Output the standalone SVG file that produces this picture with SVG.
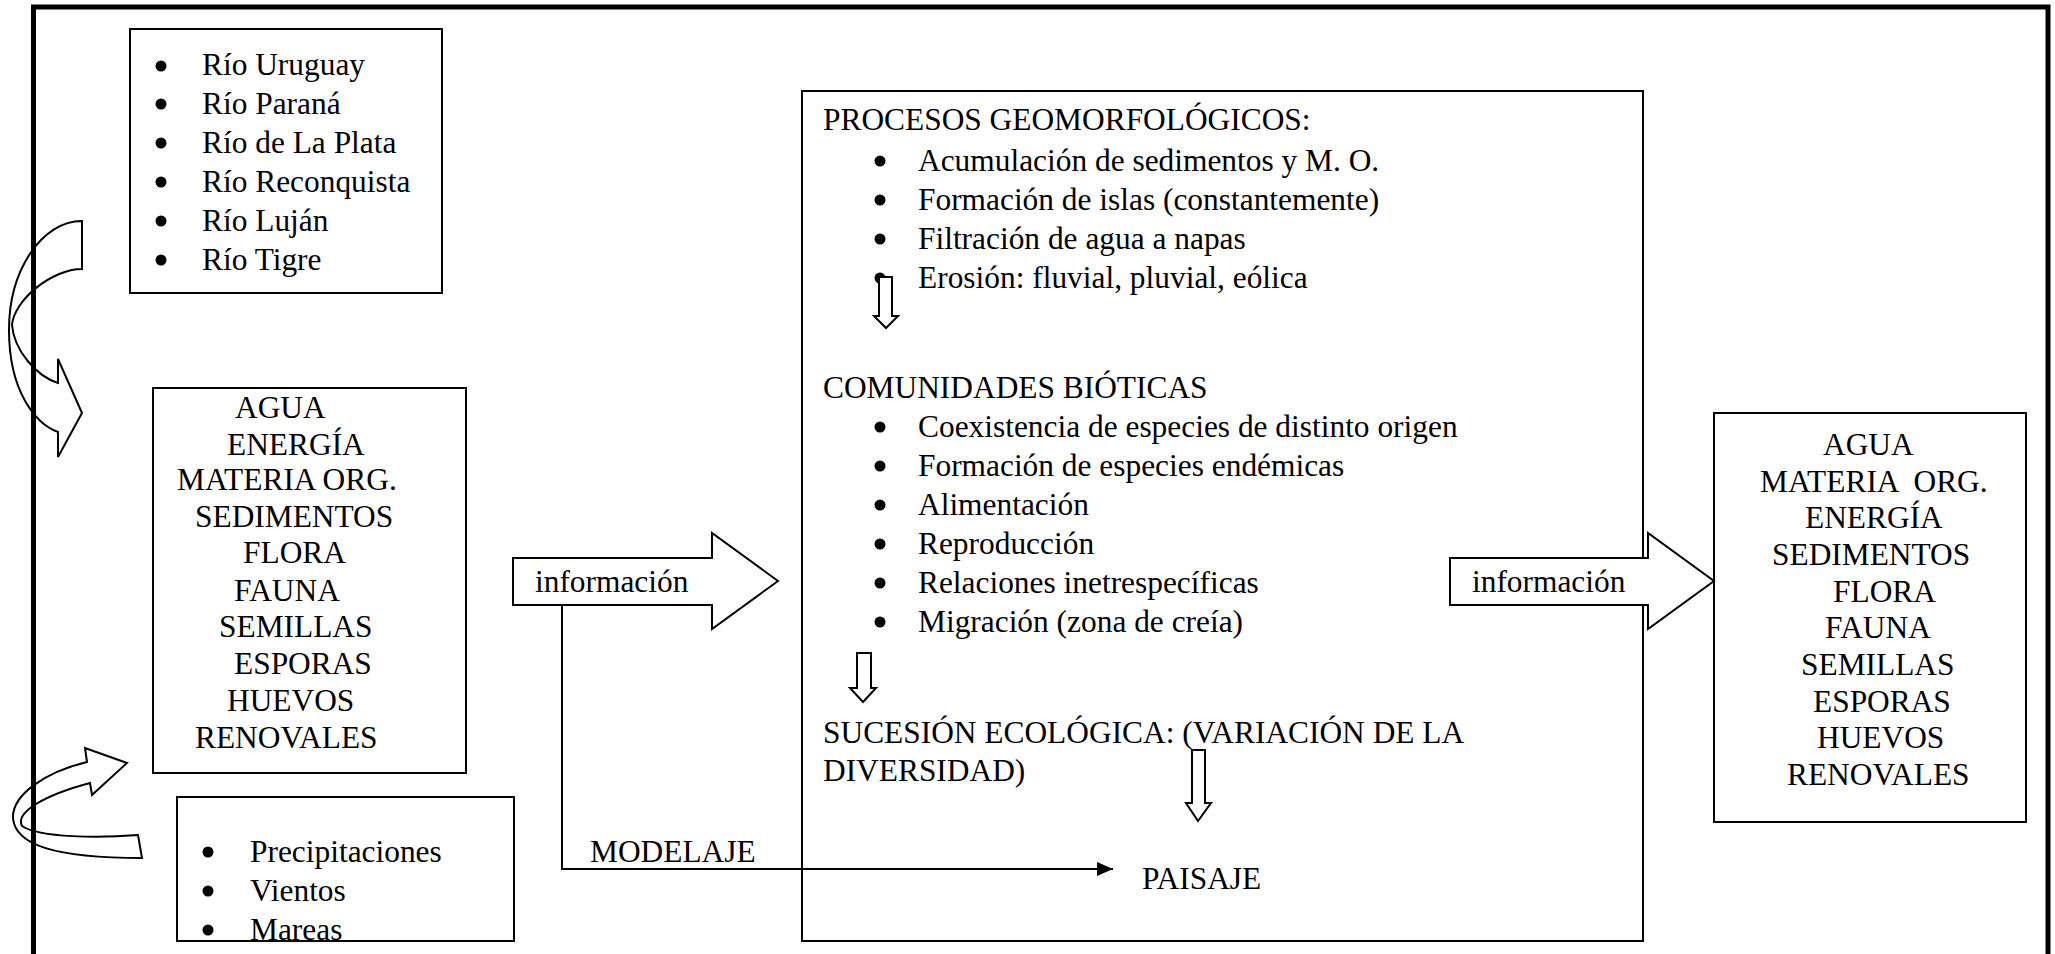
<svg xmlns="http://www.w3.org/2000/svg" width="2055" height="954" viewBox="0 0 2055 954">
<style>
text{font-family:"Liberation Serif","Times New Roman",serif;font-size:31.4px;fill:#000}
.box{fill:#fff;stroke:#000;stroke-width:2}
.blk{fill:#fff;stroke:#000;stroke-width:2;stroke-linejoin:miter}
.curve{fill:none;stroke:#000;stroke-width:2}
.bul{fill:#000}
.ln{fill:none;stroke:#000;stroke-width:2}
</style>
<defs>
<marker id="tri" viewBox="0 0 16 14" refX="16" refY="7" markerWidth="16" markerHeight="14" markerUnits="userSpaceOnUse" orient="auto">
<path d="M0,0 L16,7 L0,14 Z" fill="#000"/>
</marker>
</defs>
<rect x="0" y="0" width="2055" height="954" fill="#fff"/>
<g id="frame"><path d="M33.5,960 L33.5,7 L2048,7 L2048,960" fill="none" stroke="#000" stroke-width="5"/></g>

<g id="rios">
<rect class="box" x="130" y="29" width="312" height="264"/>
<circle class="bul" cx="161" cy="66" r="5.5"/><text x="202" y="75">Río Uruguay</text>
<circle class="bul" cx="161" cy="104" r="5.5"/><text x="202" y="114">Río Paraná</text>
<circle class="bul" cx="161" cy="143" r="5.5"/><text x="202" y="153">Río de La Plata</text>
<circle class="bul" cx="161" cy="182" r="5.5"/><text x="202" y="192">Río Reconquista</text>
<circle class="bul" cx="161" cy="221" r="5.5"/><text x="202" y="231">Río Luján</text>
<circle class="bul" cx="161" cy="260" r="5.5"/><text x="202" y="270">Río Tigre</text>
</g>

<g id="entradas">
<rect class="box" x="153" y="388" width="313" height="385"/>
<text x="235" y="418">AGUA</text>
<text x="227" y="455">ENERGÍA</text>
<text x="177" y="490">MATERIA ORG.</text>
<text x="195" y="527">SEDIMENTOS</text>
<text x="243" y="563">FLORA</text>
<text x="234" y="601">FAUNA</text>
<text x="219" y="637">SEMILLAS</text>
<text x="234" y="674">ESPORAS</text>
<text x="227" y="711">HUEVOS</text>
<text x="195" y="748">RENOVALES</text>
</g>

<g id="clima">
<rect class="box" x="177" y="797" width="337" height="144"/>
<circle class="bul" cx="208" cy="852" r="5.5"/><text x="250" y="862">Precipitaciones</text>
<circle class="bul" cx="208" cy="891" r="5.5"/><text x="250" y="901">Vientos</text>
<circle class="bul" cx="208" cy="930" r="5.5"/><text x="250" y="940">Mareas</text>
</g>

<g id="procesos">
<rect class="box" x="802" y="91" width="841" height="850"/>
<text x="823" y="130">PROCESOS GEOMORFOLÓGICOS:</text>
<circle class="bul" cx="880" cy="161" r="5.5"/><text x="918" y="171">Acumulación de sedimentos y M. O.</text>
<circle class="bul" cx="880" cy="200" r="5.5"/><text x="918" y="210">Formación de islas (constantemente)</text>
<circle class="bul" cx="880" cy="239" r="5.5"/><text x="918" y="249">Filtración de agua a napas</text>
<circle class="bul" cx="880" cy="278" r="5.5"/><text x="918" y="288">Erosión: fluvial, pluvial, eólica</text>
<text x="823" y="398">COMUNIDADES BIÓTICAS</text>
<circle class="bul" cx="880" cy="427" r="5.5"/><text x="918" y="437">Coexistencia de especies de distinto origen</text>
<circle class="bul" cx="880" cy="466" r="5.5"/><text x="918" y="476">Formación de especies endémicas</text>
<circle class="bul" cx="880" cy="505" r="5.5"/><text x="918" y="515">Alimentación</text>
<circle class="bul" cx="880" cy="544" r="5.5"/><text x="918" y="554">Reproducción</text>
<circle class="bul" cx="880" cy="583" r="5.5"/><text x="918" y="593">Relaciones inetrespecíficas</text>
<circle class="bul" cx="880" cy="622" r="5.5"/><text x="918" y="632">Migración (zona de creía)</text>
<text x="823" y="743">SUCESIÓN ECOLÓGICA: (VARIACIÓN DE LA</text>
<text x="823" y="781">DIVERSIDAD)</text>
<text x="1142" y="889">PAISAJE</text>
</g>

<g id="salidas">
<rect class="box" x="1714" y="413" width="312" height="409"/>
<text x="1823" y="455">AGUA</text>
<text x="1760" y="492" xml:space="preserve">MATERIA  ORG.</text>
<text x="1805" y="528">ENERGÍA</text>
<text x="1772" y="565">SEDIMENTOS</text>
<text x="1833" y="602">FLORA</text>
<text x="1825" y="638">FAUNA</text>
<text x="1801" y="675">SEMILLAS</text>
<text x="1813" y="712">ESPORAS</text>
<text x="1817" y="748">HUEVOS</text>
<text x="1787" y="785">RENOVALES</text>
</g>

<g id="connectors">
<path class="curve" d="M82,221 L82,269 C52,269 14,300 12,325 C14,350 36,376 58,383 L58,359 L82,413 L58,457 L58,432 C36,424 9,392 9,330 C9,270 42,221 82,221 Z"/>
<path class="curve" d="M142,858 L138,835 C100,838 40,838 22,826 C15,812 45,795 90,783 L92,795 L127,763 L85,748 L87,762 C45,772 12,795 13,818 C15,845 55,858 142,858 Z"/>
<path class="ln" d="M562,605 L562,869 L1113,869" marker-end="url(#tri)"/>
<path class="blk" d="M513,558 L712,558 L712,533 L778,581 L712,629 L712,605 L513,605 Z"/>
<text x="535" y="592">información</text>
<path class="blk" d="M1450,558 L1648,558 L1648,533 L1714,581 L1648,629 L1648,605 L1450,605 Z"/>
<text x="1472" y="592">información</text>
<text x="590" y="862">MODELAJE</text>
<path class="blk" d="M879,277 L892,277 L892,316 L898,316 L886,328 L874,316 L879,316 Z"/>
<path class="blk" d="M857,653 L871,653 L871,688 L876,688 L863,702 L850,688 L857,688 Z"/>
<path class="blk" d="M1192,750 L1205,750 L1205,803 L1211,803 L1198,821 L1186,803 L1192,803 Z"/>
</g>
</svg>
